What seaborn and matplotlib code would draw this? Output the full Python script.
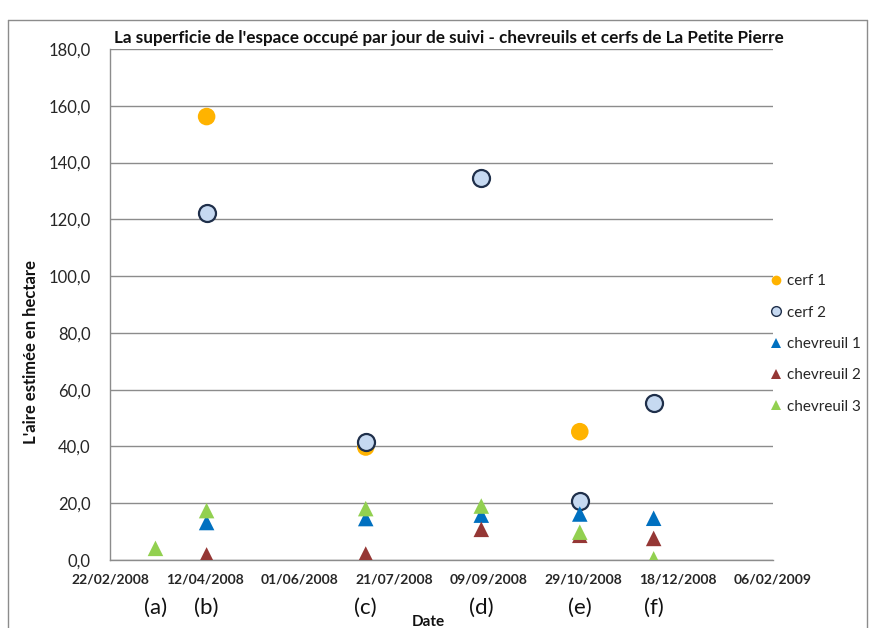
import numpy as np
import pandas as pd
import matplotlib
matplotlib.use("Agg")
import matplotlib.pyplot as plt
import matplotlib.dates as mdates
from matplotlib.lines import Line2D
import seaborn as sns

# Survey dates and their letters
dates = ["2008-03-17", "2008-04-13", "2008-07-06", "2008-09-05", "2008-10-27", "2008-12-05"]
letters = ["(a)", "(b)", "(c)", "(d)", "(e)", "(f)"]

# Area occupied per tracking day (hectares)
cerf1 = [np.nan, 156.2, 39.8, np.nan, 45.2, np.nan]
cerf2 = [np.nan, 122.3, 41.4, 134.5, 20.9, 55.2]
chevreuil1 = [np.nan, 13.2, 14.6, 15.8, 16.2, 14.7]
chevreuil2 = [np.nan, 1.8, 2.1, 10.8, 8.7, 7.6]
chevreuil3 = [4.1, 17.4, 18.1, 19.0, 9.8, 0.4]

series_names = ["cerf 1", "cerf 2", "chevreuil 1", "chevreuil 2", "chevreuil 3"]
series_values = [cerf1, cerf2, chevreuil1, chevreuil2, chevreuil3]

x_ticks = pd.date_range("2008-02-22", periods=8, freq="50D")
y_ticks = [0, 20, 40, 60, 80, 100, 120, 140, 160, 180]

styles = {
    "cerf 1": dict(marker="o", color="#FFB300", edgecolor="none", lw=0, s=160),
    "cerf 2": dict(marker="o", color="#C6D9F1", edgecolor="#1F2F4A", lw=1.6, s=150),
    "chevreuil 1": dict(marker="^", color="#0070C0", edgecolor="none", lw=0, s=125),
    "chevreuil 2": dict(marker="^", color="#953735", edgecolor="none", lw=0, s=125),
    "chevreuil 3": dict(marker="^", color="#92D050", edgecolor="none", lw=0, s=125),
}

sns.set_style("white")
plt.rcParams["font.family"] = ["Lato", "DejaVu Sans"]

frames = []
for name, vals in zip(series_names, series_values):
    frames.append(pd.DataFrame({"date": pd.to_datetime(dates), "aire": vals, "serie": name}))
df = pd.concat(frames, ignore_index=True).dropna()

fig = plt.figure(figsize=(8.69, 6.28), dpi=100)
ax = fig.add_axes([110 / 869, 68 / 628, 663 / 869, 511 / 628])

for name in series_names:
    st = styles[name]
    sub = df[df["serie"] == name]
    sns.scatterplot(data=sub, x="date", y="aire", ax=ax, marker=st["marker"],
                    color=st["color"], edgecolor=st["edgecolor"], linewidth=st["lw"],
                    s=st["s"], legend=False, zorder=3)

ax.set_xlim(x_ticks[0], x_ticks[-1])
ax.set_ylim(0, 180)
ax.set_xticks(x_ticks)
ax.xaxis.set_major_formatter(mdates.DateFormatter("%d/%m/%Y"))
ax.set_yticks(y_ticks)
ax.set_yticklabels([f"{v:.1f}".replace(".", ",") for v in y_ticks])
ax.set_xlabel("")
ax.set_ylabel("")

grid_col = "#8C8C8C"
ax.yaxis.grid(True, color=grid_col, lw=1.0, zorder=0)
ax.xaxis.grid(False)
for side in ["top", "right"]:
    ax.spines[side].set_visible(False)
for side in ["left", "bottom"]:
    ax.spines[side].set_color(grid_col)
    ax.spines[side].set_linewidth(1.0)
ax.tick_params(axis="y", length=0, pad=14, labelsize=12, labelcolor="#262626")
ax.tick_params(axis="x", length=0, pad=10, labelsize=10, labelcolor="#262626")
for lab in ax.get_xticklabels():
    lab.set_fontweight("bold")

# Letters under each survey date
for d, lab in zip(dates, letters):
    ax.text(mdates.date2num(pd.Timestamp(d)), -0.093, lab, transform=ax.get_xaxis_transform(),
            ha="center", va="center", fontsize=16, color="#111111")

fig.text(449 / 869, 1 - 38 / 628,
         "La superficie de l'espace occupé par jour de suivi - chevreuils et cerfs de La Petite Pierre",
         ha="center", va="center", fontsize=12.3, fontweight="bold", color="#111111")
fig.text(31 / 869, 1 - 352 / 628, "L'aire estimée en hectare", rotation=90,
         ha="center", va="center", fontsize=12, fontweight="bold", color="#111111")
fig.text(428 / 869, 1 - 615 / 628, "Date", ha="center", va="top",
         fontsize=11, fontweight="bold", color="#111111")

handles = []
for name in series_names:
    st = styles[name]
    handles.append(Line2D([], [], linestyle="none", marker=st["marker"], markersize=7,
                          markerfacecolor=st["color"],
                          markeredgecolor=st["edgecolor"] if st["edgecolor"] != "none" else st["color"],
                          markeredgewidth=1.0 if st["lw"] else 0))
ax.legend(handles, series_names, loc="center left", bbox_to_anchor=(0.995, 0.4227),
          frameon=False, borderaxespad=0, borderpad=0, handlelength=0.8,
          handletextpad=0.35, labelspacing=1.14, fontsize=11)

# Chart-area border
border = dict(color="#8C8C8C", lw=1.0, transform=fig.transFigure, clip_on=False)
fig.add_artist(Line2D([8 / 869, 8 / 869], [0, 1 - 20 / 628], **border))
fig.add_artist(Line2D([8 / 869, 867 / 869], [1 - 20 / 628, 1 - 20 / 628], **border))
fig.add_artist(Line2D([867 / 869, 867 / 869], [0, 1 - 20 / 628], **border))

fig.savefig("out.png", dpi=100)
